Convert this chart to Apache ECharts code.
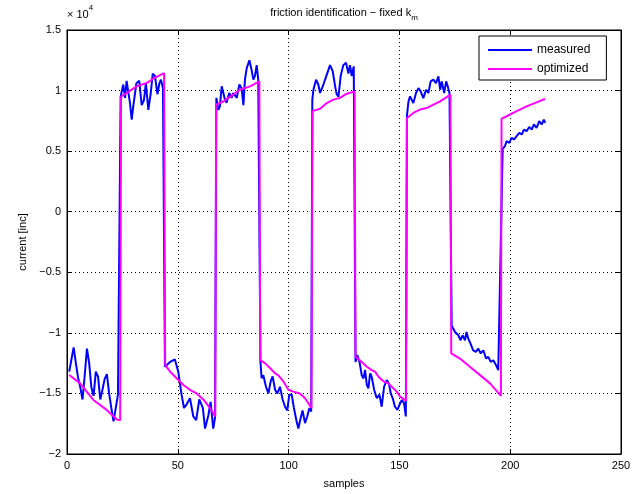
<!DOCTYPE html>
<html>
<head>
<meta charset="utf-8">
<script src="https://cdn.jsdelivr.net/npm/echarts@6/dist/echarts.min.js"></script>
<style>
  html, body { margin: 0; background: #fff; }
  #chart { width: 638px; height: 494px; }
</style>
</head>
<body>
<div id="chart"></div>
<script>
// values in units of 1e4 [inc]; x = sample index
const measured = [
  [1,-1.32],[2,-1.22],[3,-1.12],[4,-1.25],[5,-1.37],[6,-1.45],[7,-1.55],[8,-1.35],[9,-1.13],[10,-1.25],
  [11,-1.45],[12,-1.52],[13,-1.32],[14,-1.36],[15,-1.55],[16,-1.47],[17,-1.38],[18,-1.34],[19,-1.50],[20,-1.62],
  [21,-1.73],[22,-1.62],[23,-1.51],
  [24.2,0.95],[25.4,1.05],[26.2,0.94],[26.9,1.08],[27.7,1.09],[28.4,0.90],[29.2,0.76],[29.9,0.87],[31.3,1.06],
  [32.6,1.08],[33.7,0.88],[34.7,0.92],[35.6,1.06],[36.7,0.84],[37.8,0.98],[38.7,1.14],[39.7,1.12],[40.8,0.97],
  [41.7,1.06],[42.4,1.09],[43.3,1.02],
  [44.2,-1.28],[44.7,-1.28],[46.5,-1.24],[48.7,-1.22],[50.2,-1.32],[51.7,-1.51],[52.8,-1.62],[54,-1.59],
  [55.5,-1.54],[57,-1.69],[58.3,-1.72],[59.7,-1.55],[61.3,-1.62],[62.3,-1.79],[63.8,-1.68],[64.8,-1.57],
  [66,-1.79],[66.8,-1.70],
  [67.4,0.94],[68.3,0.84],[69,0.87],[69.8,1.035],[70.5,1.05],[71.3,0.925],[72,0.90],[73.2,0.98],[74.3,0.94],
  [75,0.98],[76.6,0.94],[77.8,1.05],[78.8,1.02],[79.6,0.88],[80.3,1.09],[81.1,1.185],[82.3,1.25],[83.3,1.17],
  [84.1,1.09],[84.8,1.12],[85.6,1.21],[86.3,1.09],
  [87.3,-1.24],[87.8,-1.375],[88.6,-1.35],[89.8,-1.445],[90.9,-1.50],[91.9,-1.40],[92.8,-1.36],[93.9,-1.47],
  [94.9,-1.50],[96.1,-1.445],[97.3,-1.55],[98.4,-1.61],[99.4,-1.64],[100.3,-1.51],[101.4,-1.51],[102.4,-1.62],
  [103.6,-1.73],[104.4,-1.79],[105.1,-1.73],[106.3,-1.64],[107.4,-1.745],[108.4,-1.69],[109.4,-1.62],[110.2,-1.65],
  [110.7,0.925],[111.2,1.007],[112.4,1.09],[113.4,1.05],[114.2,0.98],[115.7,1.05],[117.2,1.13],[118.7,1.21],
  [119.9,1.16],[121,1.035],[121.7,0.97],[122.5,0.95],[123.5,1.12],[124.7,1.21],[125.9,1.23],[127,1.14],
  [127.7,1.21],[128.5,1.12],[129.4,1.20],
  [130.2,-1.24],[131,-1.184],[132,-1.24],[133,-1.35],[133.8,-1.376],[134.5,-1.307],[135.3,-1.43],[136,-1.458],
  [136.8,-1.335],[137.5,-1.362],[138.6,-1.47],[139.8,-1.54],[141,-1.51],[142,-1.61],[143.1,-1.444],[144.3,-1.39],
  [145.3,-1.42],[146.1,-1.50],[147,-1.54],[148,-1.61],[149.1,-1.636],[150,-1.595],[151.1,-1.554],[152.1,-1.58],
  [152.9,-1.69],
  [153.4,0.79],[154.1,0.91],[154.8,0.952],[155.6,0.966],[156.3,0.898],[157.5,0.98],[158.6,1.02],[159.6,0.993],
  [160.8,0.938],[162,1.007],[163.1,0.98],[164.1,1.076],[165.3,1.09],[166.5,1.062],[167.6,1.117],[168.4,1.007],
  [169.1,1.076],[170.2,0.98],[171.1,1.076],[171.8,1.035],[172.6,0.98],
  [173.6,-0.94],[175.1,-0.993],[176.6,-1.02],[177.6,-1.061],[178.5,-1.02],[179.6,-1.061],[180.3,-0.993],
  [181.1,-1.048],[182.1,-1.089],[183.3,-1.144],[184.5,-1.157],[185.6,-1.13],[186.7,-1.17],[187.9,-1.144],
  [189.1,-1.212],[190.1,-1.198],[191.2,-1.24],[192.4,-1.226],[193.6,-1.267],[194.6,-1.308],[195.3,-1.32],
  [196.6,0.52],[197.6,0.54],[198.4,0.583],[199.6,0.569],[200.6,0.61],[201.7,0.596],[202.9,0.624],[204.1,0.651],
  [205.2,0.637],[206.2,0.678],[207.4,0.665],[208.6,0.70],[209.7,0.678],[210.7,0.72],[211.9,0.692],[213.1,0.747],
  [214.2,0.72],[215.2,0.76],[215.8,0.733]
];

const optimized = [
  [1,-1.348],[5.9,-1.417],[11.9,-1.554],[17.9,-1.636],[22.7,-1.718],[24.0,-1.72],
  [24.4,0.95],[26.9,0.98],[31.4,1.035],[35.9,1.062],[39,1.10],[43.8,1.144],
  [44.3,-1.265],[46.5,-1.32],[48.7,-1.36],[52.5,-1.43],[55.5,-1.47],[58.5,-1.50],[61.5,-1.55],[64.5,-1.62],[66.9,-1.69],
  [67.3,0.884],[70.5,0.91],[75,0.966],[78,1.007],[82.6,1.035],[86.8,1.076],
  [87.2,-1.225],[89.3,-1.25],[91.6,-1.29],[93.9,-1.335],[95.4,-1.35],[97.6,-1.40],[99.9,-1.47],[102.1,-1.485],
  [105.1,-1.50],[107.4,-1.54],[110.3,-1.62],
  [110.8,0.83],[114.2,0.85],[117.2,0.897],[120.2,0.925],[123.2,0.94],[126.2,0.974],[129.8,0.993],
  [130.2,-1.198],[133,-1.24],[135.3,-1.28],[137.5,-1.307],[139,-1.32],[140.5,-1.36],[142.8,-1.40],[145,-1.417],
  [146.5,-1.444],[148.8,-1.485],[150.3,-1.526],[153.0,-1.56],
  [153.4,0.774],[156.3,0.815],[159.3,0.843],[162.3,0.856],[165.3,0.884],[168.4,0.911],[173.0,0.966],
  [173.4,-1.17],[177.3,-1.212],[181.8,-1.28],[186.4,-1.349],[190.9,-1.417],[195.8,-1.52],
  [196.1,0.769],[198.4,0.788],[202.9,0.83],[207.4,0.87],[211.9,0.903],[215.7,0.93]
];

const font = 'Liberation Sans';

const chart = echarts.init(document.getElementById('chart'));

const axisCommon = {
  axisLine: { onZero: false, lineStyle: { color: '#000', width: 1 } },
  axisTick: { inside: true, length: 5, lineStyle: { color: '#000' } },
  splitLine: { show: false }
};

chart.setOption({
  animation: false,
  backgroundColor: '#fff',
  grid: { left: 67, right: 17, top: 30, bottom: 38, show: true, borderColor: '#000', borderWidth: 1 },
  graphic: [
    {
      type: 'text', x: 344, y: 7,
      style: {
        text: '{t|friction identification − fixed k}{s|m}',
        align: 'center',
        rich: {
          t: { fontFamily: font, fontSize: 11, lineHeight: 13, verticalAlign: 'top', fill: '#000' },
          s: { fontFamily: font, fontSize: 8, lineHeight: 21, verticalAlign: 'middle', fill: '#000' }
        }
      }
    },
    {
      type: 'text', x: 67, y: 4,
      style: {
        text: '{a|× 10}{b|4}',
        rich: {
          a: { fontFamily: font, fontSize: 11, lineHeight: 22, verticalAlign: 'middle', fill: '#000' },
          b: { fontFamily: font, fontSize: 8, lineHeight: 10, verticalAlign: 'top', fill: '#000' }
        }
      }
    }
  ],
  legend: {
    left: 479, top: 36,
    orient: 'vertical',
    backgroundColor: '#fff',
    borderColor: '#000', borderWidth: 1, borderRadius: 0,
    padding: [8, 16, 5, 9],
    itemGap: 7,
    itemWidth: 44, itemHeight: 2,
    icon: 'rect',
    textStyle: { fontFamily: font, fontSize: 12, color: '#000' },
    data: ['measured', 'optimized']
  },
  xAxis: [
    Object.assign({}, axisCommon, {
      type: 'value', min: 0, max: 250, interval: 50, position: 'bottom',
      name: 'samples', nameLocation: 'middle', nameGap: 24,
      nameTextStyle: { fontFamily: font, fontSize: 11, color: '#000' },
      axisLabel: { fontFamily: font, fontSize: 11, color: '#000', margin: 6 },
      splitLine: { show: true, lineStyle: { color: '#000', type: [1, 3], width: 1 } }
    }),
    Object.assign({}, axisCommon, {
      type: 'value', min: 0, max: 250, interval: 50, position: 'top',
      axisLabel: { show: false }
    })
  ],
  yAxis: [
    Object.assign({}, axisCommon, {
      type: 'value', min: -2, max: 1.5, interval: 0.5, position: 'left',
      name: 'current [inc]', nameLocation: 'middle', nameGap: 30, nameRotate: 90,
      nameTextStyle: { fontFamily: font, fontSize: 11, color: '#000' },
      axisLabel: {
        fontFamily: font, fontSize: 11, color: '#000', margin: 6,
        formatter: v => (v < 0 ? '−' : '') + Math.abs(v)
      },
      splitLine: { show: true, lineStyle: { color: '#000', type: [1, 3], width: 1 } }
    }),
    Object.assign({}, axisCommon, {
      type: 'value', min: -2, max: 1.5, interval: 0.5, position: 'right',
      axisLabel: { show: false }
    })
  ],
  series: [
    {
      name: 'measured', type: 'line', data: measured,
      symbol: 'none', showSymbol: false,
      lineStyle: { color: '#0000ff', width: 2 },
      itemStyle: { color: '#0000ff' }
    },
    {
      name: 'optimized', type: 'line', data: optimized,
      symbol: 'none', showSymbol: false,
      lineStyle: { color: '#ff00ff', width: 2 },
      itemStyle: { color: '#ff00ff' }
    }
  ]
});
</script>
</body>
</html>
